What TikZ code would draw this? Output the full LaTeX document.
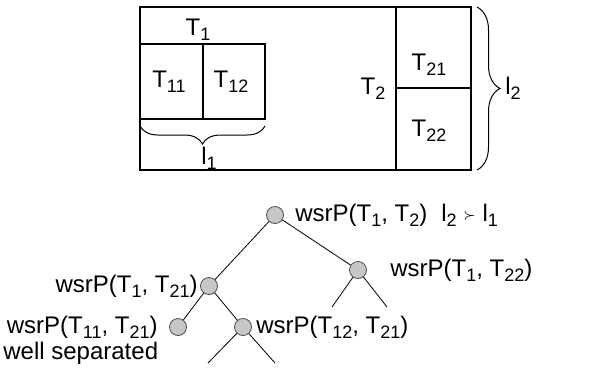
\documentclass[tikz,border=0pt]{standalone}
\usepackage{fontspec}
\setmainfont{Liberation Sans}
\usetikzlibrary{decorations.pathreplacing}
\newcommand{\sbs}[1]{\raisebox{-0.4ex}{\fontsize{9}{10}\selectfont #1}}
\begin{document}
\begin{tikzpicture}[x=0.5pt,y=-0.5pt,
  box/.style={draw=black,line width=0.6pt},
  lbl/.style={inner sep=0pt,font=\fontsize{12}{14}\selectfont},
  tn/.style={circle,draw=black!70,fill=black!22,minimum size=8.5pt,inner sep=0pt,line width=0.4pt},
  edge/.style={draw=black,line width=0.4pt},
  brc/.style={draw=black,line width=0.5pt,decorate}]
\useasboundingbox (0,0) rectangle (592,380);
% rectangles
\draw[box] (140,7) rectangle (471,170);
\draw[box] (396,7) -- (396,170);
\draw[box] (396,88) -- (471,88);
\draw[box] (140,44) rectangle (265,119);
\draw[box] (203,44) -- (203,119);
\node[lbl] (t1) at (198,30) {T\sbs{1}};
\node[lbl] (t11) at (169,82) {T\sbs{11}};
\node[lbl] (t12) at (231,82) {T\sbs{12}};
\node[lbl] (t2) at (373,89) {T\sbs{2}};
\node[lbl] (t21) at (429,65) {T\sbs{21}};
\node[lbl] (t22) at (429,131) {T\sbs{22}};
% braces
\draw[brc,decoration={brace,amplitude=9pt}] (265,126) -- (140,126);
\node[lbl] (l1) at (209,158) {l\sbs{1}};
\draw[brc,decoration={brace,amplitude=11.5pt}] (477,7) -- (477,170);
\node[lbl] (l2) at (513,88) {l\sbs{2}};
% tree
\node[tn] (r) at (275,215) {};
\node[tn] (a) at (209,286) {};
\node[tn] (b) at (358,270) {};
\node[tn] (c) at (178,327) {};
\node[tn] (d) at (243,327) {};
\coordinate (b1) at (332,307);
\coordinate (b2) at (387,307);
\coordinate (d1) at (208,363);
\coordinate (d2) at (275,363);
\draw[edge] (r) -- (a);
\draw[edge] (r) -- (b);
\draw[edge] (a) -- (c);
\draw[edge] (a) -- (d);
\draw[edge] (b) -- (b1);
\draw[edge] (b) -- (b2);
\draw[edge] (d) -- (d1);
\draw[edge] (d) -- (d2);
\node[lbl,anchor=west] (lr) at (295,215) {wsrP(T\sbs{1}, T\sbs{2})};
\node[lbl,anchor=west] (cmp) at (441,215) {l\sbs{2} \raisebox{0.1ex}{\scriptsize$\succ$} l\sbs{1}};
\node[lbl,anchor=east] (la) at (198,286) {wsrP(T\sbs{1}, T\sbs{21})};
\node[lbl,anchor=west] (lb) at (390,270) {wsrP(T\sbs{1}, T\sbs{22})};
\node[lbl,anchor=east] (lc) at (158,327) {wsrP(T\sbs{11}, T\sbs{21})};
\node[lbl,anchor=west] (ld) at (256,327) {wsrP(T\sbs{12}, T\sbs{21})};
\node[lbl,anchor=west] (ws) at (3,353) {well separated};
\end{tikzpicture}
\end{document}
